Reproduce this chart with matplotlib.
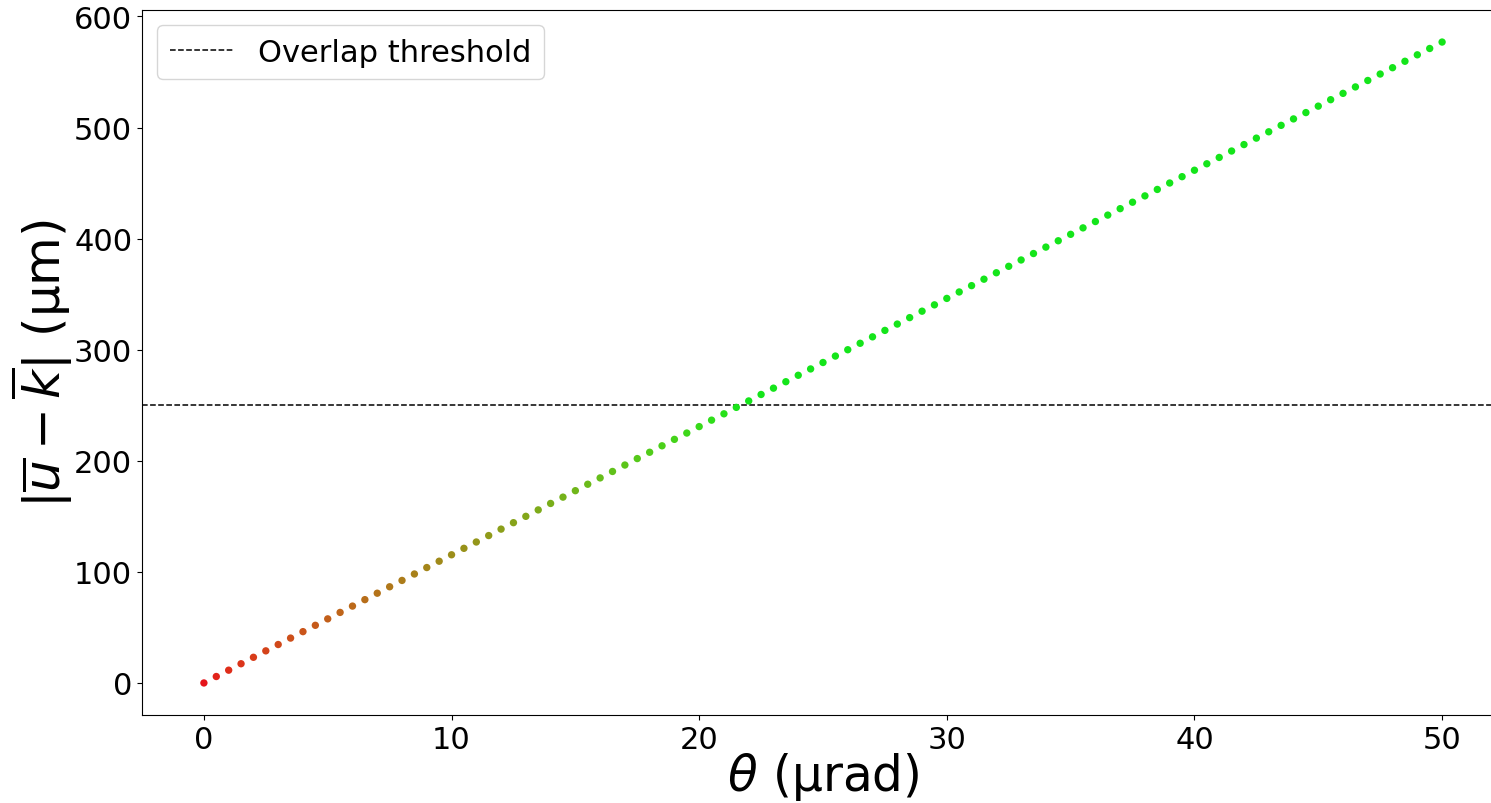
import numpy as np
import matplotlib
matplotlib.use("Agg")
import matplotlib.pyplot as plt

theta = [0.0, 0.5, 1.0, 1.5, 2.0, 2.5, 3.0, 3.5, 4.0, 4.5,
         5.0, 5.5, 6.0, 6.5, 7.0, 7.5, 8.0, 8.5, 9.0, 9.5,
         10.0, 10.5, 11.0, 11.5, 12.0, 12.5, 13.0, 13.5, 14.0, 14.5,
         15.0, 15.5, 16.0, 16.5, 17.0, 17.5, 18.0, 18.5, 19.0, 19.5,
         20.0, 20.5, 21.0, 21.5, 22.0, 22.5, 23.0, 23.5, 24.0, 24.5,
         25.0, 25.5, 26.0, 26.5, 27.0, 27.5, 28.0, 28.5, 29.0, 29.5,
         30.0, 30.5, 31.0, 31.5, 32.0, 32.5, 33.0, 33.5, 34.0, 34.5,
         35.0, 35.5, 36.0, 36.5, 37.0, 37.5, 38.0, 38.5, 39.0, 39.5,
         40.0, 40.5, 41.0, 41.5, 42.0, 42.5, 43.0, 43.5, 44.0, 44.5,
         45.0, 45.5, 46.0, 46.5, 47.0, 47.5, 48.0, 48.5, 49.0, 49.5,
         50.0]

separation = [0.0, 5.8, 11.5, 17.3, 23.1, 28.9, 34.6, 40.4, 46.2, 51.9,
              57.7, 63.5, 69.2, 75.0, 80.8, 86.6, 92.3, 98.1, 103.9, 109.6,
              115.4, 121.2, 126.9, 132.7, 138.5, 144.3, 150.0, 155.8, 161.6, 167.3,
              173.1, 178.9, 184.6, 190.4, 196.2, 202.0, 207.7, 213.5, 219.3, 225.0,
              230.8, 236.6, 242.3, 248.1, 253.9, 259.7, 265.4, 271.2, 277.0, 282.7,
              288.5, 294.3, 300.0, 305.8, 311.6, 317.4, 323.1, 328.9, 334.7, 340.4,
              346.2, 352.0, 357.7, 363.5, 369.3, 375.1, 380.8, 386.6, 392.4, 398.1,
              403.9, 409.7, 415.4, 421.2, 427.0, 432.8, 438.5, 444.3, 450.1, 455.8,
              461.6, 467.4, 473.1, 478.9, 484.7, 490.5, 496.2, 502.0, 507.8, 513.5,
              519.3, 525.1, 530.8, 536.6, 542.4, 548.2, 553.9, 559.7, 565.5, 571.2,
              577.0]

threshold = 250.0
legend_label = "Overlap threshold"
xlabel = r"$\theta$ (µrad)"
ylabel = r"$|\overline{u} - \overline{k}|$ (µm)"

W, H = 1491, 804
fig = plt.figure(figsize=(W / 100, H / 100), dpi=100)
ax = fig.add_axes([142 / W, 88 / H, (1504 - 142) / W, (716 - 11) / H])
ax.spines["right"].set_visible(False)

sep = np.array(separation)
frac = np.clip(sep / threshold, 0, 1)
red = 0.08 + 0.82 * (1 - frac) ** 0.7
green = 0.08 + 0.82 * frac ** 0.7
blue = 0.1 * np.ones_like(frac)
colors = np.column_stack([red, green, blue])

ax.scatter(theta, separation, c=colors, s=28, edgecolors="none", zorder=3)
ax.axhline(threshold, color="black", linestyle="--", linewidth=1.1, label=legend_label)

ax.set_xlabel(xlabel, fontsize=35, labelpad=-3)
ax.set_ylabel(ylabel, fontsize=36, labelpad=-1)
ax.tick_params(axis="both", labelsize=22)
ax.legend(loc="upper left", fontsize=22, handlelength=2.1)

fig.savefig("out.png", dpi=100)
